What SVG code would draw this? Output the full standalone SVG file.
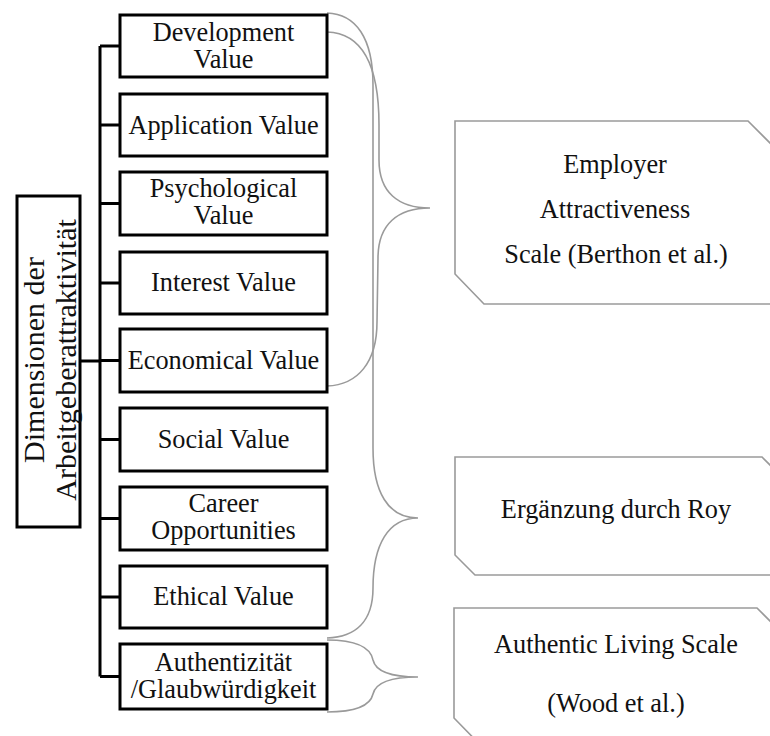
<svg xmlns="http://www.w3.org/2000/svg" width="770" height="736" viewBox="0 0 770 736">
<style>
.box{fill:#fff;stroke:#000;stroke-width:3}
.t{font-family:"Liberation Serif","Times New Roman",serif;font-size:26.3px;fill:#111;text-anchor:middle}
.big{font-family:"Liberation Serif","Times New Roman",serif;font-size:30px;fill:#111;text-anchor:middle}
.conn{fill:none;stroke:#000;stroke-width:3}
.brace{fill:none;stroke:#9a9a9a;stroke-width:1.6}
.scale{fill:#fff;stroke:#9a9a9a;stroke-width:1.6}
</style>
<g id="connectors">
<path class="conn" d="M100,46 V676.5 M80,361 H100 M100,46 H120 M100,125 H120 M100,203.5 H120 M100,283 H120 M100,360.5 H120 M100,439.5 H120 M100,518.5 H120 M100,597 H120 M100,676.5 H120"/>
<path class="brace" d="M327,32 C362,33 379,65 379,125 L379,160 C379,192 398,208 430,208 C398,208 378,224 378,258 L377,322 C377,362 358,385 327,386"/>
<path class="brace" d="M327,13 C356,14 373,38 373,85 L373,448 C373,492 388,518 418,518 C388,518 373,545 373,588 C373,622 355,637 327,638"/>
<path class="brace" d="M327,640 C352,640 370,645 373,660 C376,673 395,677 418,677 C395,677 376,681 373,694 C370,707 352,712 327,712"/>
</g>
<g id="root">
<rect class="box" x="17" y="196" width="63" height="331"/>
<text class="big" transform="translate(44,360) rotate(-90)">Dimensionen der</text>
<text class="big" transform="translate(76,360) rotate(-90)">Arbeitgeberattraktivität</text>
</g>
<g id="n1"><rect class="box" x="120" y="15" width="207" height="62"/><text class="t" x="223.5" y="41">Development</text><text class="t" x="223.5" y="68">Value</text></g>
<g id="n2"><rect class="box" x="120" y="94" width="207" height="62"/><text class="t" x="223.5" y="134">Application Value</text></g>
<g id="n3"><rect class="box" x="120" y="172" width="207" height="63"/><text class="t" x="223.5" y="197">Psychological</text><text class="t" x="223.5" y="224">Value</text></g>
<g id="n4"><rect class="box" x="120" y="252" width="207" height="62"/><text class="t" x="223.5" y="291">Interest Value</text></g>
<g id="n5"><rect class="box" x="120" y="329" width="207" height="63"/><text class="t" x="223.5" y="369">Economical Value</text></g>
<g id="n6"><rect class="box" x="120" y="408" width="207" height="63"/><text class="t" x="223.5" y="448">Social Value</text></g>
<g id="n7"><rect class="box" x="120" y="487" width="207" height="63"/><text class="t" x="223.5" y="512">Career</text><text class="t" x="223.5" y="539">Opportunities</text></g>
<g id="n8"><rect class="box" x="120" y="566" width="207" height="62"/><text class="t" x="223.5" y="605">Ethical Value</text></g>
<g id="n9"><rect class="box" x="120" y="644" width="207" height="65"/><text class="t" x="223.5" y="671">Authentizität</text><text class="t" x="223.5" y="698">/Glaubwürdigkeit</text></g>
<g id="s1"><polygon class="scale" points="455,121 748,121 778,151 778,304 484,304 455,274"/><text class="t" x="615" y="173">Employer</text><text class="t" x="615" y="218">Attractiveness</text><text class="t" x="616" y="263">Scale (Berthon et al.)</text></g>
<g id="s2"><polygon class="scale" points="455,457 762,457 780,475 780,575 475,575 455,555"/><text class="t" x="616" y="518">Ergänzung durch Roy</text></g>
<g id="s3"><polygon class="scale" points="454,608 757,608 780,631 780,760 495,760 454,718"/><text class="t" x="616" y="653">Authentic Living Scale</text><text class="t" x="616" y="712">(Wood et al.)</text></g>
</svg>
